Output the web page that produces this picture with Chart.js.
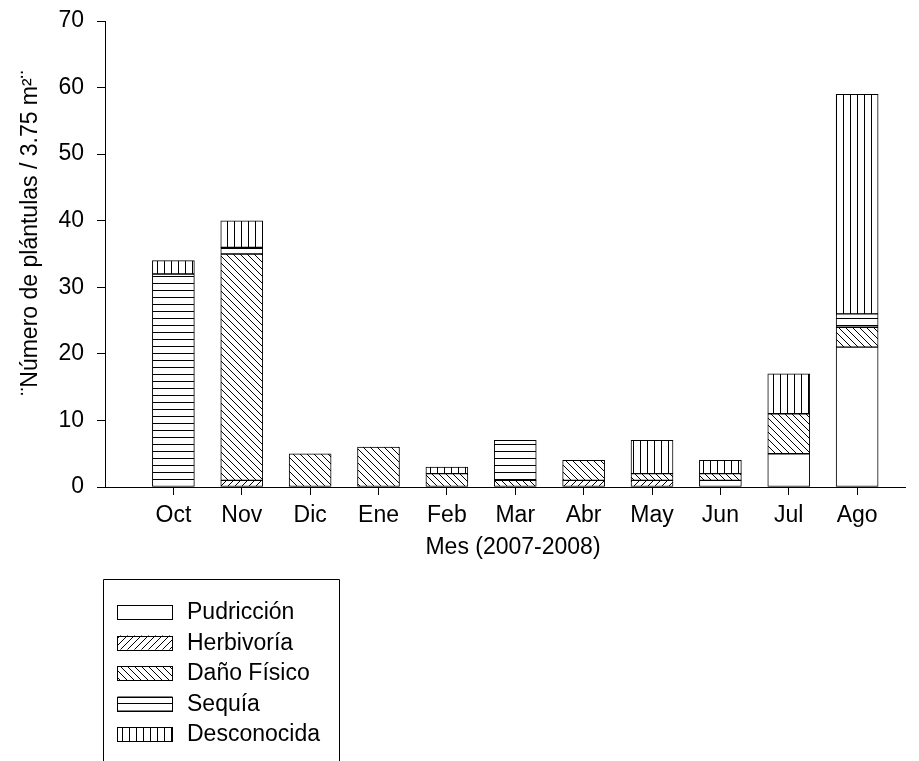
<!DOCTYPE html>
<html>
<head>
<meta charset="utf-8">
<script src="https://cdn.jsdelivr.net/npm/chart.js@4/dist/chart.umd.min.js"></script>
<style>
html, body { margin: 0; padding: 0; background: #fff; }
</style>
</head>
<body>
<canvas id="myChart" width="919" height="761"></canvas>
<script>
const months = ['Oct', 'Nov', 'Dic', 'Ene', 'Feb', 'Mar', 'Abr', 'May', 'Jun', 'Jul', 'Ago']
const causes = ['Pudricción', 'Herbivoría', 'Daño Físico', 'Sequía', 'Desconocida']
const pudricion   = [0, 0, 0, 0, 0, 0, 0, 0, 1, 5, 21]
const herbivoria  = [0, 1, 0, 0, 0, 0, 1, 1, 0, 0, 0]
const danoFisico  = [0, 34, 5, 6, 2, 1, 3, 1, 1, 6, 3]
const sequia      = [32, 1, 0, 0, 0, 6, 0, 0, 0, 0, 2]
const desconocida = [2, 4, 0, 0, 1, 0, 0, 5, 2, 6, 33]
const yTicks = [0, 10, 20, 30, 40, 50, 60, 70]

const FONT = 'Liberation Sans, Arial, sans-serif'
const FS = 23

// hatch fills like the old SigmaPlot ones
function hatch(kind) {
    const s = 7
    const c = document.createElement('canvas')
    c.width = s
    c.height = s
    const g = c.getContext('2d')
    g.fillStyle = '#fff'
    g.fillRect(0, 0, s, s)
    g.strokeStyle = '#000'
    g.lineWidth = 1
    g.beginPath()
    if (kind == 'h') { g.moveTo(0, 3.5); g.lineTo(s, 3.5) }
    if (kind == 'v') { g.moveTo(3.5, 0); g.lineTo(3.5, s) }
    if (kind == '/') {
        g.moveTo(0, s); g.lineTo(s, 0)
        g.moveTo(-2, 2); g.lineTo(2, -2)
        g.moveTo(s - 2, s + 2); g.lineTo(s + 2, s - 2)
    }
    if (kind == '\\') {
        g.moveTo(0, 0); g.lineTo(s, s)
        g.moveTo(-2, s - 2); g.lineTo(2, s + 2)
        g.moveTo(s - 2, -2); g.lineTo(s + 2, 2)
    }
    g.stroke()
    return g.createPattern(c, 'repeat')
}

const series = [pudricion, herbivoria, danoFisico, sequia, desconocida]
const fills = ['#fff', hatch('/'), hatch('\\'), hatch('h'), hatch('v')]

const datasets = series.map((arr, k) => ({
    label: causes[k],
    data: arr.map((v, i) => ({ x: i, y: v || null })),
    backgroundColor: fills[k],
    borderColor: '#000',
    borderWidth: 1,
    borderSkipped: false,
    barThickness: 42
}))

// legend box, axis titles, drawn by hand
const extras = {
    id: 'extras',
    afterDraw(chart) {
        const ctx = chart.ctx
        ctx.save()
        ctx.fillStyle = '#000'
        ctx.font = FS + 'px ' + FONT
        ctx.textBaseline = 'middle'
        ctx.textAlign = 'center'

        const a = chart.chartArea
        ctx.fillText('Mes (2007-2008)', (a.left + a.right) / 2 + 8, 548)

        ctx.translate(31, 233)
        ctx.rotate(-Math.PI / 2)
        ctx.fillText('¨Número de plántulas / 3.75 m²¨', 0, 0)
        ctx.setTransform(1, 0, 0, 1, 0, 0)

        ctx.strokeStyle = '#000'
        ctx.lineWidth = 1
        ctx.beginPath()
        ctx.moveTo(103.5, 770)
        ctx.lineTo(103.5, 579.5)
        ctx.lineTo(339.5, 579.5)
        ctx.lineTo(339.5, 770)
        ctx.stroke()

        ctx.textAlign = 'left'
        chart.data.datasets.forEach((ds, i) => {
            const yc = 612 + i * 30.5
            ctx.fillStyle = ds.backgroundColor
            ctx.fillRect(117.5, yc - 7, 55, 14)
            ctx.strokeRect(117.5, Math.round(yc - 7) + 0.5, 55, 14)
            ctx.fillStyle = '#000'
            ctx.fillText(ds.label, 187, yc + 1)
        })
        ctx.restore()
    }
}

new Chart(document.querySelector('#myChart'), {
    type: 'bar',
    data: { datasets },
    options: {
        responsive: false,
        animation: false,
        devicePixelRatio: 1,
        layout: { padding: { top: 21, right: 14, left: 0, bottom: 0 } },
        plugins: { legend: { display: false }, tooltip: { enabled: false } },
        scales: {
            x: {
                type: 'linear',
                stacked: true,
                offset: false,
                min: -1,
                max: 10.7,
                afterBuildTicks: s => { s.ticks = months.map((m, i) => ({ value: i })) },
                afterFit: s => { s.height = 274; s.paddingLeft = 0; s.paddingRight = 0 },
                grid: { offset: false, drawOnChartArea: false, tickLength: 8, color: '#000' },
                border: { color: '#000' },
                ticks: {
                    color: '#000',
                    font: { family: FONT, size: FS },
                    padding: 7,
                    maxRotation: 0,
                    callback: v => months[v]
                }
            },
            y: {
                stacked: true,
                min: 0,
                max: 70,
                afterBuildTicks: s => { s.ticks = yTicks.map(v => ({ value: v })) },
                afterFit: s => { s.width = 105; s.paddingTop = 0; s.paddingBottom = 0 },
                grid: { drawOnChartArea: false, tickLength: 8, color: '#000' },
                border: { color: '#000' },
                ticks: {
                    color: '#000',
                    font: { family: FONT, size: FS },
                    padding: 13
                }
            }
        }
    },
    plugins: [extras]
})
</script>
</body>
</html>
